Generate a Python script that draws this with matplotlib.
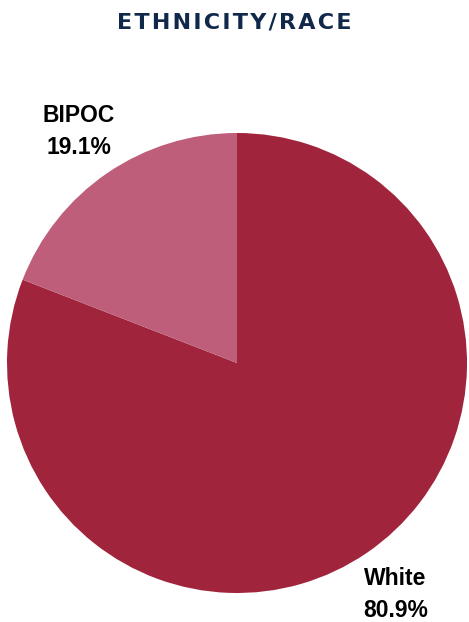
import matplotlib.pyplot as plt

# data
labels = ['White', 'BIPOC']
values = [80.9, 19.1]
colors = ['#A0243C', '#BE5E7A']
title = 'ETHNICITY/RACE'

W, H = 469, 622
fig = plt.figure(figsize=(W / 100, H / 100), dpi=100)

# pie centre (237, 363) px, radius 230 px
cx, cy, r = 237, 363, 230
ax = fig.add_axes([(cx - r) / W, (H - cy - r) / H, 2 * r / W, 2 * r / H])

texts = ax.pie(values, colors=colors, startangle=90, counterclock=False,
               labels=[f'{l}\n{v}%' for l, v in zip(labels, values)],
               labeldistance=1.22,
               wedgeprops=dict(linewidth=0),
               textprops=dict(fontsize=16.5, fontweight='bold',
                              family=['Liberation Sans', 'DejaVu Sans'],
                              color='black', linespacing=1.5))[1]
for t in texts:
    t.set_ha('center')
    t.set_va('center')
ax.set_xlim(-1, 1)
ax.set_ylim(-1, 1)
ax.set_aspect('equal')
ax.axis('off')

# title with wide tracking
fig.text(0.5, 1 - 23 / H, '\u200a'.join(title), ha='center', va='center',
         fontsize=16, fontweight='heavy', color='#10284A',
         family=['DejaVu Sans'])

fig.savefig('out.png', dpi=100)
